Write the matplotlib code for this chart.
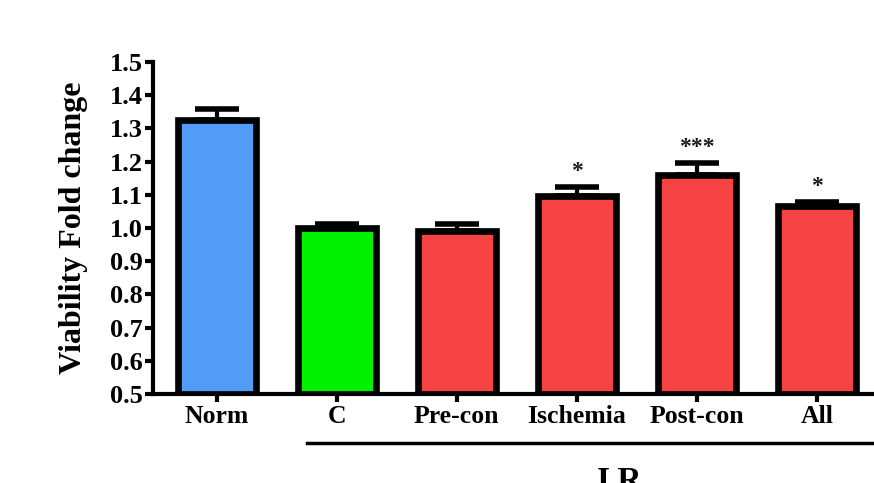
import matplotlib.pyplot as plt
import matplotlib.transforms as mtransforms

# group means and upper SEM
groups = ["Norm", "C", "Pre-con", "Ischemia", "Post-con", "All"]
viability = [1.325, 1.0, 0.99, 1.095, 1.16, 1.065]
sem = [0.032, 0.012, 0.022, 0.028, 0.036, 0.014]
stars = ["", "", "", "*", "***", "*"]
colors = ["#529CF8", "#00F200", "#F54242", "#F54242", "#F54242", "#F54242"]
yticks = [0.5, 0.6, 0.7, 0.8, 0.9, 1.0, 1.1, 1.2, 1.3, 1.4, 1.5]

plt.rcParams["font.family"] = "Liberation Serif"
plt.rcParams["font.weight"] = "bold"

fig = plt.figure(figsize=(8.74, 4.83), dpi=100)
ax = fig.add_axes([0.175, 0.184, 0.825, 0.688])

x = list(range(len(groups)))
ax.bar(x, [v - 0.5 for v in viability], bottom=0.5, width=0.65,
       color=colors, edgecolor="black", linewidth=4.8, zorder=2)
ax.errorbar(x, viability, yerr=[[0] * len(sem), sem], fmt="none",
            ecolor="black", elinewidth=3, capsize=16, capthick=4, zorder=1)

for xi, v, e, s in zip(x, viability, sem, stars):
    if s:
        ax.text(xi, v + e + 0.015, s, ha="center", va="bottom",
                fontsize=17, fontweight="bold", color="#1a1a1a")

ax.set_xlim(-0.53, 5.475)
ax.set_ylim(0.5, 1.5)
ax.set_yticks(yticks)
ax.set_yticklabels([f"{t:.1f}" for t in yticks])
ax.set_xticks(x)
ax.set_xticklabels(groups)

for side in ["top", "right"]:
    ax.spines[side].set_visible(False)
for side in ["left", "bottom"]:
    ax.spines[side].set_linewidth(3)
ax.tick_params(axis="both", direction="out", length=6, width=3)
ax.tick_params(axis="y", pad=1, labelsize=19)
ax.tick_params(axis="x", pad=2, labelsize=18.5)

ax.set_ylabel("Viability Fold change", fontsize=23, fontweight="bold", labelpad=16)

# bracket under the I.R groups
trans = mtransforms.blended_transform_factory(ax.transData, ax.transAxes)
ax.plot([0.75, 5.6], [-0.148, -0.148], color="black", linewidth=2.5,
        transform=trans, clip_on=False)
ax.text(3.36, -0.215, "I.R", transform=trans, ha="center", va="top",
        fontsize=24, fontweight="bold")

fig.savefig("out.png", dpi=100)
